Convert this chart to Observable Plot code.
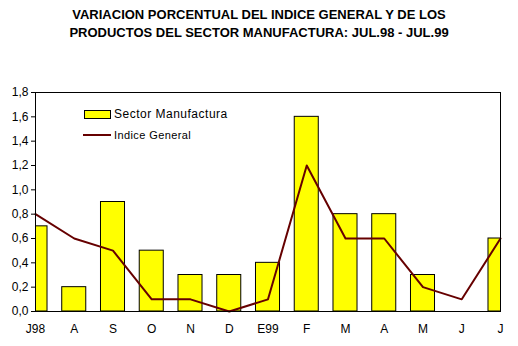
<!DOCTYPE html>
<html>
<head>
<meta charset="utf-8">
<script src="https://cdn.jsdelivr.net/npm/d3@7"></script>
<script src="https://cdn.jsdelivr.net/npm/@observablehq/plot@0.6"></script>
<style>
  html, body { margin: 0; padding: 0; background: white; }
  #wrap { position: relative; width: 518px; height: 346px; font-family: "Liberation Sans", Arial, sans-serif; }
  #title { height: 46px; box-sizing: border-box; padding-top: 6px; text-align: center; font-weight: bold; font-size: 13px; line-height: 18px; color: black; }
  .leg { position: absolute; font-size: 12px; color: black; white-space: nowrap; }
</style>
</head>
<body>
<div id="wrap">
  <div id="title">VARIACION PORCENTUAL DEL INDICE GENERAL Y DE LOS<br>PRODUCTOS DEL SECTOR MANUFACTURA: JUL.98 - JUL.99</div>
  <div id="chart"></div>
  <div style="position:absolute;left:84px;top:110px;width:27px;height:9px;box-sizing:border-box;border:1px solid black;background:#ffff00;"></div>
  <div class="leg" style="left:114px;top:106px;line-height:16px;letter-spacing:0.5px;">Sector Manufactura</div>
  <div style="position:absolute;left:83px;top:134px;width:28px;height:2px;background:#660000;"></div>
  <div class="leg" style="left:114px;top:127px;line-height:16px;font-size:11px;letter-spacing:0.4px;">Indice General</div>
</div>
<script>
const months = ["J98","A","S","O","N","D","E99","F","M","A","M","J","J"];
const manufactura = [0.7,0.2,0.9,0.5,0.3,0.3,0.4,1.6,0.8,0.8,0.3,0,0.6];
const indice = [0.8,0.6,0.5,0.1,0.1,0.0,0.1,1.2,0.6,0.6,0.2,0.1,0.6];
const yTicks = [0,0.2,0.4,0.6,0.8,1.0,1.2,1.4,1.6,1.8];

const data = months.map((m, i) => ({i, m, manufactura: manufactura[i], indice: indice[i]}));

const chart = Plot.plot({
  width: 518,
  height: 300,
  marginTop: 46,
  marginLeft: 35,
  marginRight: 18,
  marginBottom: 35,
  style: {fontFamily: '"Liberation Sans", Arial, sans-serif', fontSize: "12px", color: "black", background: "white", overflow: "visible"},
  x: {domain: [0, 12], ticks: d3.range(13), tickFormat: i => months[i], tickSize: 0, tickPadding: 13, label: null},
  y: {domain: [0, 1.8], ticks: yTicks, tickFormat: d => d.toFixed(1).replace(".", ","), tickSize: 4, tickPadding: 3, label: null},
  marks: [
    Plot.rectY(data, {x1: d => d.i - 0.31, x2: d => d.i + 0.31, y1: 0, y2: "manufactura", fill: "#ffff00", stroke: "black", strokeWidth: 1, clip: true}),
    Plot.line(data, {x: "i", y: "indice", stroke: "#660000", strokeWidth: 2}),
    Plot.frame({stroke: "black", strokeWidth: 1})
  ]
});
document.getElementById("chart").appendChild(chart);
</script>
</body>
</html>
